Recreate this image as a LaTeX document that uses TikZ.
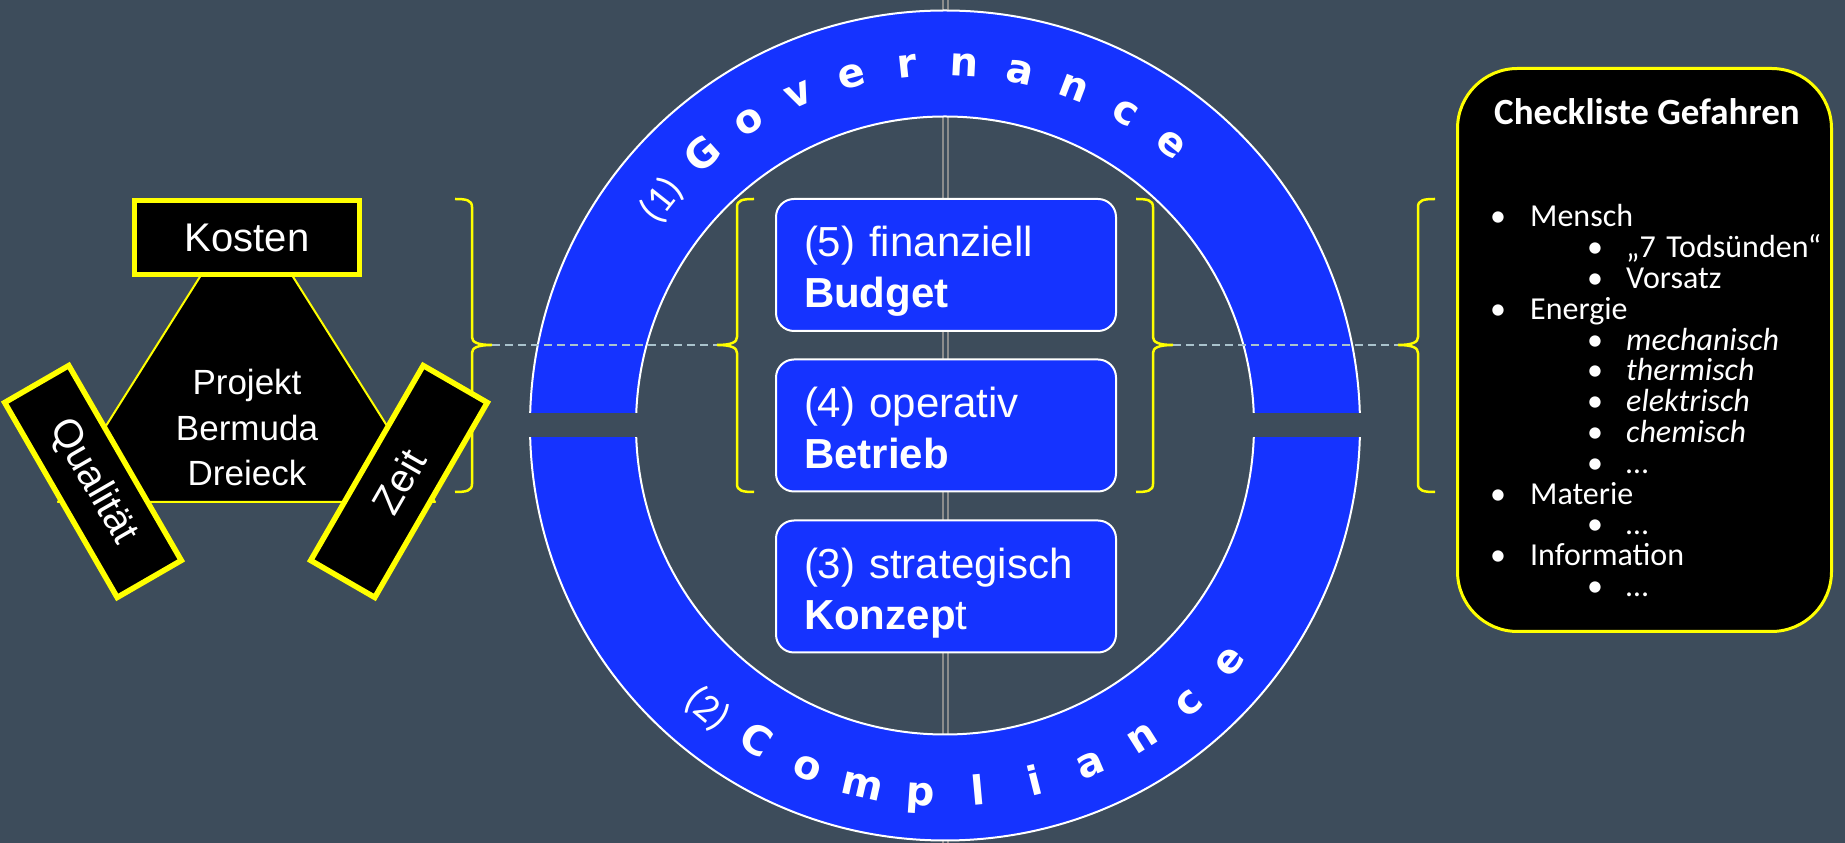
\documentclass[tikz,border=0pt]{standalone}
\usepackage{fontspec}
\setmainfont{Liberation Sans}
\newfontfamily\calfont{Carlito}
\newfontfamily\verfont{DejaVu Sans}
\usetikzlibrary{calc}
\definecolor{bgc}{RGB}{61,76,91}
\definecolor{ringblue}{RGB}{21,51,255}
\definecolor{ylw}{RGB}{255,255,0}
\definecolor{lgray}{RGB}{140,140,140}
\definecolor{dashc}{RGB}{170,195,205}
\newcommand\lvlA[1]{\makebox[0pt][l]{•}\hspace*{40pt}#1}
\newcommand\lvlB[1]{\hspace*{97pt}\makebox[0pt][l]{•}\hspace*{39pt}#1}
\tikzset{
  ringtxt/.style={text=white, font=\verfont\bfseries\fontsize{40}{40}\selectfont, anchor=base, inner sep=0pt},
  ringsmall/.style={text=white, font=\calfont\fontsize{40}{40}\selectfont, anchor=base, inner sep=0pt},
  cbox/.style={draw=white, line width=2pt, fill=ringblue, rounded corners=18pt,
    minimum width=340pt, minimum height=132pt, text width=284pt, align=left,
    inner xsep=28pt, inner ysep=0pt, text height=30pt, text depth=46pt,
    text=white, font=\fontsize{42}{51}\selectfont},
  ybox/.style={draw=ylw, line width=5.5pt, fill=black, text=white,
    minimum width=225pt, minimum height=74pt, inner sep=0pt,
    font=\fontsize{40}{40}\selectfont},
  chkbox/.style={draw=ylw, line width=3pt, fill=black, rounded corners=60pt,
    minimum width=374pt, minimum height=563pt},
  dashln/.style={draw=dashc, line width=2pt, dash pattern=on 8pt off 5pt},
  mybrace/.pic={\draw[ylw, line width=2.5pt] (-17,146) .. controls (-6,146) and (0,145) .. (0,138) -- (0,8) .. controls (0,3) and (5,0) .. (20,0) .. controls (5,0) and (0,-3) .. (0,-8) -- (0,-139) .. controls (0,-146) and (-6,-147) .. (-17,-147);}
}
\begin{document}
\begin{tikzpicture}[x=1pt,y=1pt]
\useasboundingbox (0,0) rectangle (1845,843);
\fill[bgc] (0,0) rectangle (1845,843);

% vertical double line
\coordinate (vtop) at (945.5,843);
\coordinate (vbot) at (945.5,0);
\draw[lgray, line width=1.6pt, double=bgc, double distance=3.4pt] (vtop) -- (vbot);

% ring
\coordinate (rc) at (945,417.5);
\fill[ringblue, even odd rule] (rc) circle[radius=415] (rc) circle[radius=309];
\draw[white, line width=2pt] (rc) circle[radius=415];
\draw[white, line width=2pt] (rc) circle[radius=309];
\fill[bgc] (520,405.5) rectangle (650,429.5);
\fill[bgc] (1240,405.5) rectangle (1370,429.5);

% ring texts
\node[ringsmall, rotate=51.5] (gnum) at ($(rc)+(141.5:350)$) {(1)};
\foreach \ch [count=\i from 0] in {G,o,v,e,r,n,a,n,c,e} {
  \pgfmathsetmacro\ang{131.8-8.96*\i}
  \pgfmathsetmacro\rot{\ang-90}
  \node[ringtxt, rotate=\rot] (gov\i) at ($(rc)+(\ang:350)$) {\ch};
}
\node[ringsmall, rotate=320] (cnum) at ($(rc)+(230:382)$) {(2)};
\foreach \ch [count=\i from 0] in {C,o,m,p,l,i,a,n,c,e} {
  \pgfmathsetmacro\ang{239.1+9.02*\i}
  \pgfmathsetmacro\rot{\ang+90}
  \node[ringtxt, rotate=\rot] (com\i) at ($(rc)+(\ang:381)$) {\ch};
}

% center boxes
\node[cbox] (b5) at (946,578) {(5) finanziell\\\textbf{Budget}};
\node[cbox] (b4) at (946,417.5) {(4) operativ\\\textbf{Betrieb}};
\node[cbox] (b3) at (946,256.5) {(3) strategisch\\\textbf{Konzep}t};

% braces
\pic at (472,498) {mybrace};
\pic[xscale=-1] at (737,498) {mybrace};
\pic at (1153,498) {mybrace};
\pic[xscale=-1] at (1418,498) {mybrace};
\coordinate (k1) at (492,498);
\coordinate (k2) at (717,498);
\coordinate (k3) at (1173,498);
\coordinate (k4) at (1398,498);
\draw[dashln] (k1) -- (k2);
\draw[dashln] (k3) -- (k4);

% triangle
\coordinate (ta) at (246.5,640);
\coordinate (tb) at (58,341);
\coordinate (tc) at (435,341);
\filldraw[fill=black, draw=ylw, line width=2pt, line join=round] (ta) -- (tb) -- (tc) -- cycle;
\node[text=white, align=center, font=\fontsize{35}{45.5}\selectfont] (proj) at (247,415.5) {Projekt\\Bermuda\\Dreieck};
\node[ybox] (kosten) at (247,605.5) {Kosten};
\node[ybox, rotate=-60] (qual) at (93,361.5) {Qualität};
\node[ybox, rotate=60] (zeit) at (399,361.5) {Zeit};

% checklist
\node[chkbox] (chk) at (1644.5,493) {};
\node[text=white, font=\calfont\bfseries\fontsize{37}{37}\selectfont] (chkt) at (1647,731) {Checkliste Gefahren};
\node[text=white, anchor=base west, inner sep=0pt, text width=340pt, align=left,
  font={\calfont\fontsize{32}{30.8}\selectfont\lineskiplimit=-100pt}] (list) at (1490,616) {%
\lvlA{Mensch}\\
\lvlB{„7 Todsünden“}\\
\lvlB{Vorsatz}\\
\lvlA{Energie}\\
\lvlB{\textit{mechanisch}}\\
\lvlB{\textit{thermisch}}\\
\lvlB{\textit{elektrisch}}\\
\lvlB{\textit{chemisch}}\\
\lvlB{…}\\
\lvlA{Materie}\\
\lvlB{…}\\
\lvlA{Information}\\
\lvlB{…}};
\end{tikzpicture}
\end{document}
